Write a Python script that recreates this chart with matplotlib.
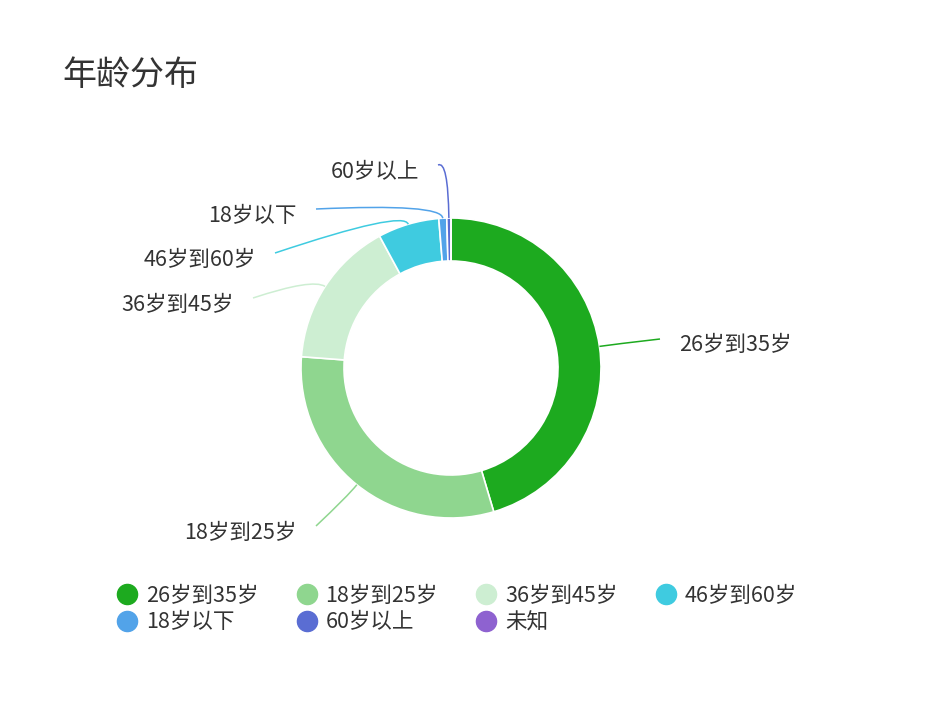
import matplotlib
matplotlib.use("Agg")
import matplotlib.pyplot as plt
import numpy as np
from matplotlib.path import Path
from matplotlib.patches import PathPatch
from matplotlib.lines import Line2D

plt.rcParams['font.family'] = ['Noto Sans CJK SC', 'DejaVu Sans']

# ---- data ----
title = "年龄分布"
categories = ["26岁到35岁", "18岁到25岁", "36岁到45岁", "46岁到60岁", "18岁以下", "60岁以上", "未知"]
values = [45.4, 30.8, 15.9, 6.6, 0.85, 0.45, 0.0]
colors = ["#1daa1f", "#8fd68f", "#cdeed2", "#3fcbe0", "#52a3e9", "#5a6dd3", "#8e62d0"]

# ---- layout (pixels) ----
W, H = 948, 709
CX, CY, R = 451, 368, 150          # donut centre / outer radius in px
INNER = 107 / 150
# leader line: radial length (px) and end point (px), text anchor offset
lead_len = [15, 15, 15, 15, 15, 58]
lead_end = [(660, 339), (316, 526), (253, 298), (275, 253), (316, 209), (438, 165)]
text_gap = 19

def d(x, y):
    return ((x - CX) / R, (CY - y) / R)

fig = plt.figure(figsize=(W / 100, H / 100), dpi=100)
fig.patch.set_facecolor("white")
ax = fig.add_axes([0, 0, 1, 1])
wedges, _ = ax.pie(values, colors=colors, startangle=90, counterclock=False,
                   radius=1.0, wedgeprops=dict(width=1 - INNER, edgecolor="white", linewidth=1.2))
ax.set_xlim(-CX / R, (W - CX) / R)
ax.set_ylim(-(H - CY) / R, CY / R)
ax.set_aspect("auto")
ax.axis("off")

for i, w in enumerate(wedges):
    if values[i] <= 0 or i >= len(lead_end):
        continue
    mid = np.deg2rad((w.theta1 + w.theta2) / 2)
    p0 = (np.cos(mid), np.sin(mid))
    L = 1 + lead_len[i] / R
    p1 = (np.cos(mid) * L, np.sin(mid) * L)
    p2 = d(*lead_end[i])
    path = Path([p0, p1, p2], [Path.MOVETO, Path.CURVE3, Path.CURVE3])
    ax.add_patch(PathPatch(path, fill=False, edgecolor=colors[i], lw=1.1))
    if p2[0] > 0:
        ax.text(p2[0] + text_gap / R, p2[1] - 6 / R, categories[i], ha="left", va="center",
                fontsize=15.5, color="#333333")
    else:
        ax.text(p2[0] - text_gap / R, p2[1] - 7 / R, categories[i], ha="right", va="center",
                fontsize=15.5, color="#333333")

fig.text(62 / W, 1 - 75 / H, title, fontsize=24.5, color="#333333", ha="left", va="center")

# legend, row-major order for 4 columns
handles = [Line2D([], [], marker="o", ls="none", markersize=14.5, markerfacecolor=c,
                  markeredgecolor=c) for c in colors]
order = [0, 4, 1, 5, 2, 6, 3]
leg = fig.legend([handles[k] for k in order], [categories[k] for k in order],
                 ncol=4, loc="upper left", bbox_to_anchor=(116 / W, 1 - 585 / H),
                 frameon=False, fontsize=15.5, handlelength=1.0, handletextpad=0.38,
                 columnspacing=1.75, labelspacing=0.2, borderpad=0, borderaxespad=0,
                 handleheight=0.7)
for t in leg.get_texts():
    t.set_color("#333333")

fig.savefig("out.png", dpi=100, facecolor="white")
